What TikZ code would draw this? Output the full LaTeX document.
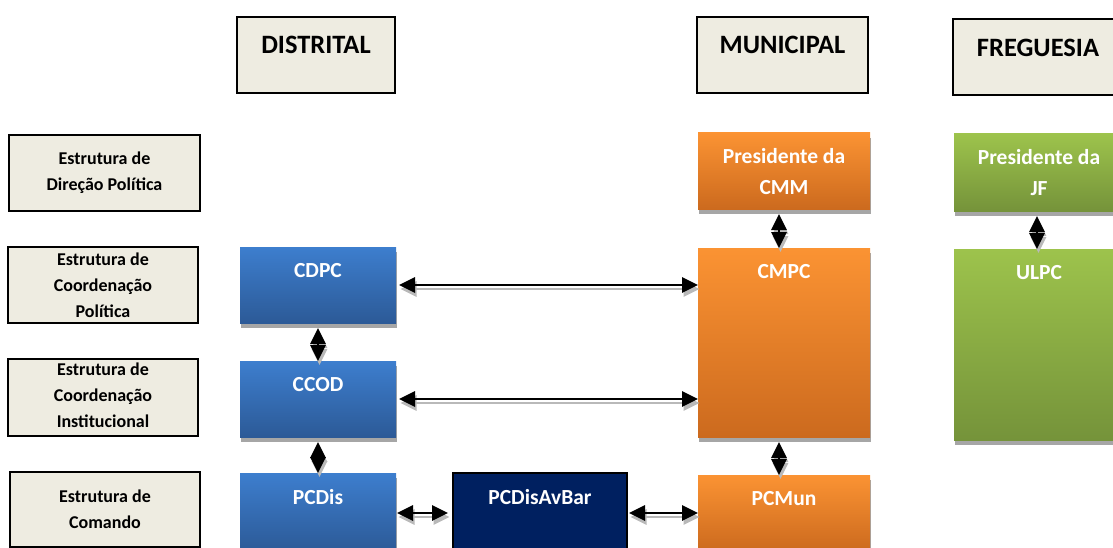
\documentclass[tikz,border=0pt]{standalone}
\usepackage{fontspec}
\setmainfont{Carlito}
\usetikzlibrary{arrows.meta,shadows}

\definecolor{paper}{HTML}{EEECE1}
\definecolor{blueT}{HTML}{3D7ECE}
\definecolor{blueB}{HTML}{2C5A97}
\definecolor{orangeT}{HTML}{FB9333}
\definecolor{orangeB}{HTML}{CC6A1E}
\definecolor{greenT}{HTML}{9DC34C}
\definecolor{greenB}{HTML}{75933A}
\definecolor{navy}{HTML}{002060}
\definecolor{shadowgray}{HTML}{A6A6A6}

\tikzset{
  framebox/.style={draw=black, line width=1.6pt, fill=paper, inner sep=0pt,
    outer sep=0pt, anchor=north west},
  tiertext/.style={font=\fontsize{26.5}{30}\selectfont\bfseries, inner sep=0pt},
  rowtext/.style={font=\fontsize{18}{26}\selectfont\bfseries, align=center,
    inner sep=0pt},
  unitbox/.style={inner sep=0pt, outer sep=0pt, anchor=north west,
    general shadow={fill=shadowgray, shadow xshift=1pt, shadow yshift=-5pt}},
  bluebox/.style={unitbox, top color=blueT, bottom color=blueB},
  orangebox/.style={unitbox, top color=orangeT, bottom color=orangeB},
  greenbox/.style={unitbox, top color=greenT, bottom color=greenB},
  navybox/.style={draw=black, line width=1.4pt, fill=navy, inner sep=0pt,
    outer sep=0pt, anchor=north west},
  unittext/.style={text=white, font=\fontsize{21.5}{31}\selectfont\bfseries,
    align=center, anchor=north, inner sep=0pt},
  link/.style={line width=2.8pt, draw=black,
    {Triangle[length=16pt,width=15pt]}-{Triangle[length=16pt,width=15pt]}},
  linkshadow/.style={link, draw=gray!55, fill=gray!55,
    transform canvas={shift={(1.5pt,-4pt)}}}
}

\begin{document}
\begin{tikzpicture}[x=1pt,y=-1pt]
  \useasboundingbox (0,0) rectangle (1113,548);
  \clip (0,0) rectangle (1113,548);

  % column headers
  \node[framebox, minimum width=158pt, minimum height=76pt] (hdis) at (237,17) {};
  \node[tiertext] (hdis-t) at ([yshift=-28pt]hdis.north) {DISTRITAL};
  \node[framebox, minimum width=171pt, minimum height=76pt] (hmun) at (697,17) {};
  \node[tiertext] (hmun-t) at ([yshift=-28pt]hmun.north) {MUNICIPAL};
  \node[framebox, minimum width=170pt, minimum height=76pt] (hfre) at (953,19) {};
  \node[tiertext] (hfre-t) at ([yshift=-29pt]hfre.north) {FREGUESIA};

  % row labels
  \node[framebox, minimum width=191pt, minimum height=76pt] (r1) at (9,135) {};
  \node[rowtext] (r1-t) at (r1.center) {Estrutura de\\Direção Política};
  \node[framebox, minimum width=190pt, minimum height=76pt] (r2) at (8,247) {};
  \node[rowtext] (r2-t) at (r2.center) {Estrutura de\\Coordenação\\Política};
  \node[framebox, minimum width=190pt, minimum height=77pt] (r3) at (8,359) {};
  \node[rowtext] (r3-t) at ([yshift=2pt]r3.center) {Estrutura de\\Coordenação\\Institucional};
  \node[framebox, minimum width=190pt, minimum height=75pt] (r4) at (10,472) {};
  \node[rowtext] (r4-t) at (r4.center) {Estrutura de\\Comando};

  % district units
  \node[bluebox, minimum width=156pt, minimum height=76pt] (cdpc) at (240,247) {};
  \node[unittext] (cdpc-t) at ([yshift=-16pt]cdpc.north) {CDPC};
  \node[bluebox, minimum width=156pt, minimum height=76pt] (ccod) at (240,361) {};
  \node[unittext] (ccod-t) at ([yshift=-16pt]ccod.north) {CCOD};
  \node[bluebox, minimum width=156pt, minimum height=78pt] (pcdis) at (240,473) {};
  \node[unittext] (pcdis-t) at ([yshift=-16pt]pcdis.north) {PCDis};

  \node[navybox, minimum width=174pt, minimum height=80pt] (avbar) at (453,473) {};
  \node[unittext] (avbar-t) at ([yshift=-16pt]avbar.north) {PCDisAvBar};

  % municipal units
  \node[orangebox, minimum width=172pt, minimum height=76pt] (cmm) at (698,133) {};
  \node[unittext] (cmm-t) at ([yshift=-15pt]cmm.north) {Presidente da\\CMM};
  \node[orangebox, minimum width=172pt, minimum height=189pt] (cmpc) at (698,248) {};
  \node[unittext] (cmpc-t) at ([yshift=-16pt]cmpc.north) {CMPC};
  \node[orangebox, minimum width=172pt, minimum height=76pt] (pcmun) at (698,475) {};
  \node[unittext] (pcmun-t) at ([yshift=-16pt]pcmun.north) {PCMun};

  % parish units
  \node[greenbox, minimum width=170pt, minimum height=77pt] (jf) at (954,134) {};
  \node[unittext] (jf-t) at ([yshift=-15pt]jf.north) {Presidente da\\JF};
  \node[greenbox, minimum width=170pt, minimum height=191pt] (ulpc) at (954,249) {};
  \node[unittext] (ulpc-t) at ([yshift=-16pt]ulpc.north) {ULPC};

  % connectors: shadow first, then the arrow itself
  \foreach \style in {linkshadow,link}{
    \draw[\style] ([xshift=3pt]cdpc.east) -- (cdpc.east -| cmpc.west);
    \draw[\style] ([xshift=3pt]ccod.east) -- (ccod.east -| cmpc.west);
    \draw[\style] ([xshift=1pt,yshift=-1pt]pcdis.east) -- ([xshift=-5pt,yshift=-1pt]pcdis.east -| avbar.west);
    \draw[\style] ([xshift=2pt,yshift=-1pt]pcdis.east -| avbar.east) -- ([yshift=-1pt]pcdis.east -| pcmun.west);
    \draw[\style] ([yshift=-5pt]cdpc.south) -- (ccod.north);
    \draw[\style] ([yshift=-5pt]ccod.south) -- (pcdis.north);
    \draw[\style] ([xshift=-5pt,yshift=-5pt]cmm.south) -- ([xshift=-5pt]cmpc.north);
    \draw[\style] ([xshift=-5pt,yshift=-5pt]cmpc.south) -- ([xshift=-5pt]pcmun.north);
    \draw[\style] ([xshift=-2pt,yshift=-5pt]jf.south) -- ([xshift=-2pt]ulpc.north);
  }
\end{tikzpicture}
\end{document}
